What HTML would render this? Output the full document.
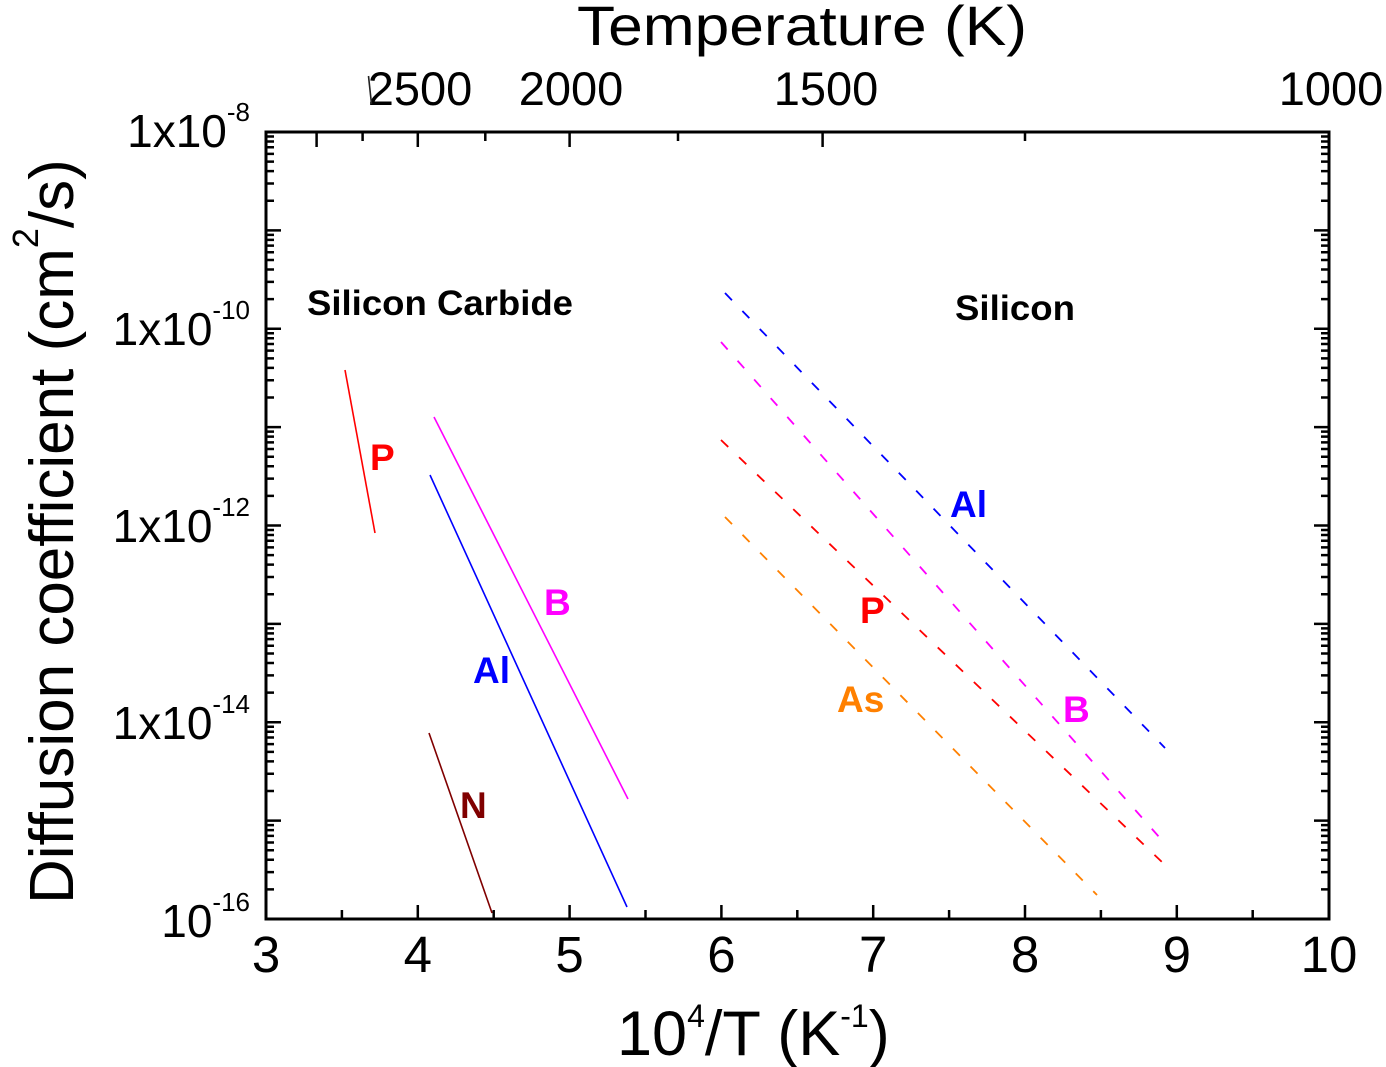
<!DOCTYPE html>
<html>
<head>
<meta charset="utf-8">
<style>
  html, body { margin: 0; padding: 0; background: #fff; }
  svg { display: block; }
  text { font-family: "Liberation Sans", Arial, sans-serif; }
</style>
</head>
<body>
<svg width="1386" height="1067" viewBox="0 0 1386 1067" xmlns="http://www.w3.org/2000/svg">
  <defs>
    <path id="ld" d="M266 0h15 M266 4.5h8 M266 9.53h8 M266 15.24h8 M266 21.82h8 M266 29.61h8 M266 39.15h8 M266 51.44h8 M266 68.76h8" stroke="#000" stroke-width="2.5" fill="none"/>
    <path id="rd" d="M1329 0h-15 M1329 4.5h-8 M1329 9.53h-8 M1329 15.24h-8 M1329 21.82h-8 M1329 29.61h-8 M1329 39.15h-8 M1329 51.44h-8 M1329 68.76h-8" stroke="#000" stroke-width="2.5" fill="none"/>
  </defs>

  <!-- left/right minor & major ticks -->
  <use href="#ld" x="0" y="132"/>
  <use href="#ld" x="0" y="230.375"/>
  <use href="#ld" x="0" y="328.75"/>
  <use href="#ld" x="0" y="427.125"/>
  <use href="#ld" x="0" y="525.5"/>
  <use href="#ld" x="0" y="623.875"/>
  <use href="#ld" x="0" y="722.25"/>
  <use href="#ld" x="0" y="820.625"/>
  <use href="#rd" x="0" y="132"/>
  <use href="#rd" x="0" y="230.375"/>
  <use href="#rd" x="0" y="328.75"/>
  <use href="#rd" x="0" y="427.125"/>
  <use href="#rd" x="0" y="525.5"/>
  <use href="#rd" x="0" y="623.875"/>
  <use href="#rd" x="0" y="722.25"/>
  <use href="#rd" x="0" y="820.625"/>

  <!-- bottom ticks -->
  <path d="M417.8 919v-14 M569.6 919v-14 M721.4 919v-14 M873.2 919v-14 M1025 919v-14 M1176.8 919v-14
           M341.9 919v-9 M493.7 919v-9 M645.5 919v-9 M797.3 919v-9 M949.1 919v-9 M1100.9 919v-9 M1252.7 919v-9"
        stroke="#000" stroke-width="2.5" fill="none"/>
  <!-- top ticks (temperature) -->
  <path d="M316.6 132v15 M417.8 132v15 M569.6 132v15 M822.6 132v15
           M362.6 132v9 M485.3 132v9 M678 132v9 M1025 132v9"
        stroke="#000" stroke-width="2.5" fill="none"/>

  <!-- frame -->
  <rect x="266" y="132" width="1063" height="787" fill="none" stroke="#000" stroke-width="3"/>

  <!-- SiC solid lines -->
  <g fill="none" stroke-width="1.6">
    <line x1="345" y1="370" x2="375" y2="533" stroke="#ff0000"/>
    <line x1="434" y1="417" x2="628" y2="799" stroke="#ff00ff"/>
    <line x1="430" y1="475" x2="627" y2="907" stroke="#0000ff"/>
    <line x1="429" y1="733" x2="492" y2="913" stroke="#800000"/>
  </g>

  <!-- Si dashed lines -->
  <g fill="none" stroke-width="1.8" stroke-dasharray="10 15">
    <line x1="725" y1="293" x2="1165" y2="748" stroke="#0000ff"/>
    <line x1="721" y1="342" x2="1160" y2="838" stroke="#ff00ff"/>
    <line x1="721" y1="440" x2="1163" y2="863" stroke="#ff0000"/>
    <line x1="725" y1="517" x2="1097" y2="895" stroke="#ff8000"/>
  </g>

  <!-- group titles -->
  <text x="307" y="315" font-size="35" font-weight="bold" fill="#000" textLength="266" lengthAdjust="spacingAndGlyphs">Silicon Carbide</text>
  <text x="955" y="320" font-size="35" font-weight="bold" fill="#000" textLength="120" lengthAdjust="spacingAndGlyphs">Silicon</text>

  <!-- series labels -->
  <g font-size="37" font-weight="bold">
    <text x="370" y="470" fill="#ff0000">P</text>
    <text x="544" y="615" fill="#ff00ff">B</text>
    <text x="473" y="683" fill="#0000ff">Al</text>
    <text x="460" y="818" fill="#800000">N</text>
    <text x="950" y="517" fill="#0000ff">Al</text>
    <text x="860" y="623" fill="#ff0000">P</text>
    <text x="837" y="712" fill="#ff8000">As</text>
    <text x="1063" y="722" fill="#ff00ff">B</text>
  </g>

  <!-- y tick labels -->
  <g font-size="46" fill="#000" text-anchor="end">
    <text x="250" y="147">1x10<tspan font-size="26" dy="-26">-8</tspan></text>
    <text x="250" y="345">1x10<tspan font-size="26" dy="-26">-10</tspan></text>
    <text x="250" y="542">1x10<tspan font-size="26" dy="-26">-12</tspan></text>
    <text x="250" y="739">1x10<tspan font-size="26" dy="-26">-14</tspan></text>
    <text x="250" y="937">10<tspan font-size="26" dy="-26">-16</tspan></text>
  </g>

  <!-- x tick labels -->
  <g font-size="51" fill="#000" text-anchor="middle">
    <text x="266" y="972">3</text>
    <text x="417.8" y="972">4</text>
    <text x="569.6" y="972">5</text>
    <text x="721.4" y="972">6</text>
    <text x="873.2" y="972">7</text>
    <text x="1025" y="972">8</text>
    <text x="1176.8" y="972">9</text>
    <text x="1329" y="972">10</text>
  </g>

  <!-- top tick labels -->
  <g font-size="47" fill="#000" text-anchor="middle">
    <text x="420" y="105">2500</text>
    <text x="571" y="105">2000</text>
    <text x="826" y="105">1500</text>
    <text x="1331" y="105">1000</text>
  </g>
  <path d="M368.5 76 L371.5 104" stroke="#222" stroke-width="1.6" fill="none"/>

  <!-- axis titles -->
  <text x="577" y="45" font-size="56" fill="#000" textLength="450" lengthAdjust="spacingAndGlyphs">Temperature (K)</text>
  <text x="617" y="1055" font-size="63" fill="#000">10<tspan font-size="32" dy="-28">4</tspan><tspan dy="28">/T (K</tspan><tspan font-size="32" dy="-28">-1</tspan><tspan dy="28">)</tspan></text>
  <text transform="translate(73,904) rotate(-90)" font-size="62" fill="#000">Diffusion coefficient (cm<tspan font-size="36" dy="-35">2</tspan><tspan dy="35">/s)</tspan></text>
</svg>
</body>
</html>
